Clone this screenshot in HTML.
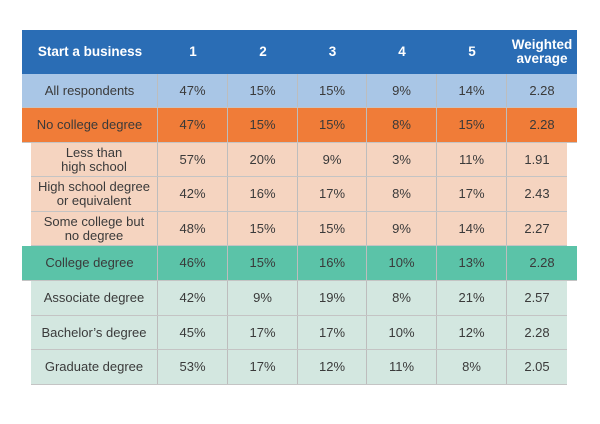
<!DOCTYPE html><html><head><style>
body{margin:0;width:600px;height:424px;background:#fff;font-family:"Liberation Sans",sans-serif;position:relative;overflow:hidden}
.r{position:absolute;display:flex;box-sizing:border-box}
.c{display:flex;align-items:center;justify-content:center;text-align:center;color:#3a3a3a;font-size:13px;line-height:14px;border-right:1px solid #bdbdbd;box-sizing:border-box}
.c:last-child{border-right:none}
.h .c{color:#fff;font-weight:bold;border-right:none;font-size:13.5px}
</style></head><body>
<div id="t"></div>
<script>
const labels=["All respondents","No college degree","Less than<br>high school","High school degree<br>or equivalent","Some college but<br>no degree","College degree","Associate degree","Bachelor’s degree","Graduate degree"];
const vals=[["47%","15%","15%","9%","14%","2.28"],["47%","15%","15%","8%","15%","2.28"],["57%","20%","9%","3%","11%","1.91"],["42%","16%","17%","8%","17%","2.43"],["48%","15%","15%","9%","14%","2.27"],["46%","15%","16%","10%","13%","2.28"],["42%","9%","19%","8%","21%","2.57"],["45%","17%","17%","10%","12%","2.28"],["53%","17%","12%","11%","8%","2.05"]];
const bg=["#a9c6e6","#f07c38","#f5d4c0","#f5d4c0","#f5d4c0","#5bc3a8","#d3e7e0","#d3e7e0","#d3e7e0"];
const ys=[74,108,143,177,212,246,281,316,350,385];
const narrow=[0,0,1,1,1,0,1,1,1];
const colX=[22,158,228,298,367,437,507,577];
const t=document.getElementById('t');
function row(y,h,cells,color,isN,cls,name){
 const r=document.createElement('div');r.className='r '+(cls||'');
 
 
 const x0=isN?31:22,x1=isN?567:577;
 r.style.cssText+=`left:${x0}px;top:${y}px;width:${x1-x0}px;height:${h}px;background:${color};`+(cls?'':'border-bottom:1px solid #c4c4c4;');
 cells.forEach((v,i)=>{const c=document.createElement('div');c.className='c';
  
  
  let a=Math.max(colX[i],x0),b=Math.min(colX[i+1],x1);c.style.width=(b-a)+'px';c.innerHTML=v;r.appendChild(c);});
 t.appendChild(r);
}
row(30,44,["Start a business","1","2","3","4","5","Weighted<br>average"],"#2a6db5",0,'h','header-row');
labels.forEach((l,i)=>row(ys[i],ys[i+1]-ys[i],[l,...vals[i]],bg[i],narrow[i],'', 'row-'+i));
</script></body></html>
